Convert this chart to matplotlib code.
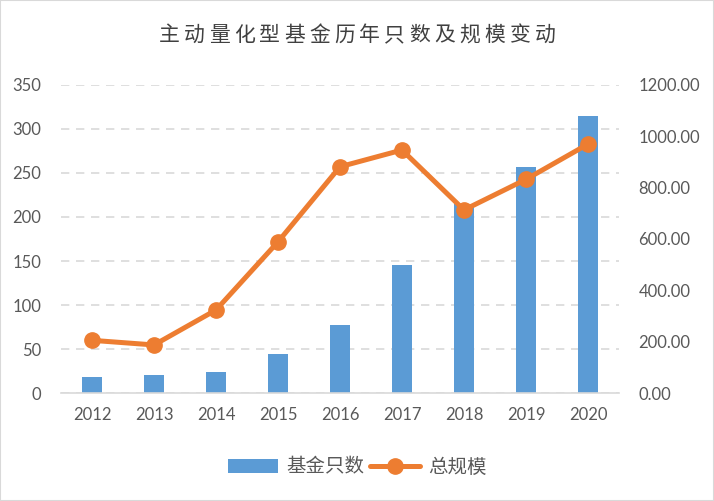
import matplotlib.pyplot as plt
import numpy as np
from matplotlib.patches import Rectangle

plt.rcParams['font.family'] = ['Lato', 'Noto Sans CJK SC', 'DejaVu Sans']

years = ['2012', '2013', '2014', '2015', '2016', '2017', '2018', '2019', '2020']
fund_count = [19, 21, 24, 45, 77, 145, 215, 257, 314]
total_size = [206, 188, 324, 589, 881, 946, 713, 832, 969]
title = '主动量化型基金历年只数及规模变动'

blue = '#5B9BD5'
orange = '#ED7D31'
grey_txt = '#595959'

fig = plt.figure(figsize=(7.14, 5.01), dpi=100)
ax = fig.add_axes([61 / 714, 1 - 393.3 / 501, (619 - 61) / 714, (393.3 - 84.7) / 501])
ax2 = ax.twinx()

x = np.arange(len(years))
bars = ax.bar(x, fund_count, width=0.32, color=blue, zorder=2, label='基金只数')
line, = ax2.plot(x, total_size, color=orange, lw=3.6, marker='o', markersize=11,
                 solid_capstyle='round', zorder=3, label='总规模')

ax.set_xlim(-0.5, len(years) - 0.5)
ax.set_ylim(0, 350)
ax.set_yticks(range(0, 351, 50))
ax2.set_ylim(0, 1200)
ax2.set_yticks(range(0, 1201, 200))
ax2.set_yticklabels([f'{v:.2f}' for v in range(0, 1201, 200)])
ax.set_xticks(x)
ax.set_xticklabels(years)

ax.yaxis.grid(True, color='#d9d9d9', linestyle=(0, (5, 4)), lw=1.2, zorder=0)
ax.set_axisbelow(True)
for a in (ax, ax2):
    for s in a.spines.values():
        s.set_visible(False)
    a.tick_params(length=0, labelsize=12, colors=grey_txt)
ax.spines['bottom'].set_visible(True)
ax.spines['bottom'].set_color('#d9d9d9')
ax.spines['bottom'].set_linewidth(1.2)
ax.tick_params(axis='y', pad=14)
ax.tick_params(axis='x', pad=10)
ax2.tick_params(axis='y', pad=14)

# title with wide character spacing (16 chars from x=157 to 557)
for i, ch in enumerate(title):
    fig.text((169 + i * 25.07) / 714, 1 - 35 / 501, ch, ha='center', va='center',
             fontsize=15, color='#404040', family=['Noto Sans CJK SC'])

leg = fig.legend(handles=[bars, line], loc='center', bbox_to_anchor=(357 / 714, 1 - 467 / 501),
                 ncol=2, frameon=False, prop={'family': 'Noto Sans CJK SC', 'size': 14},
                 handlelength=2.6, handletextpad=0.4, columnspacing=0.3)
for t in leg.get_texts():
    t.set_color(grey_txt)

fig.patches.append(Rectangle((0, 0), 1, 1, transform=fig.transFigure, fill=False,
                             edgecolor='#d9d9d9', lw=1.5))

fig.savefig('out.png', dpi=100)
